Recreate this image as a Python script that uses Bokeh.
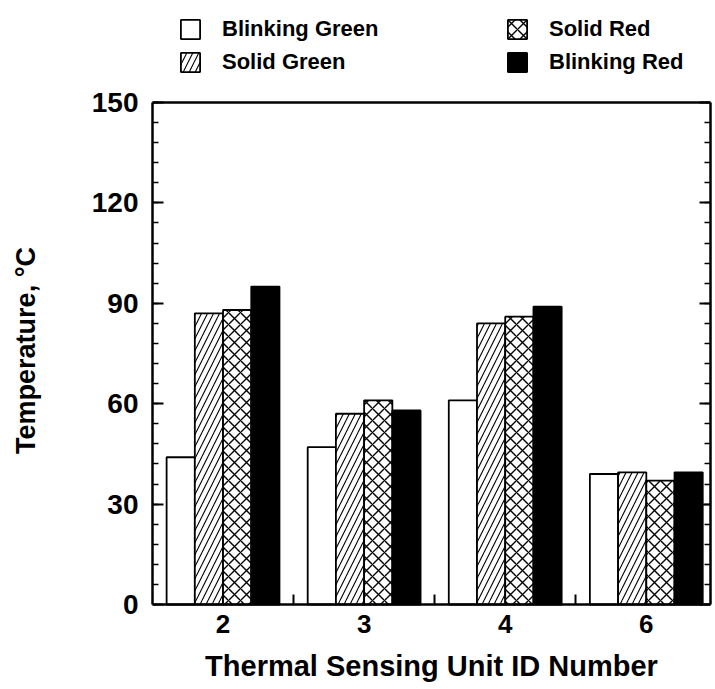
from bokeh.plotting import figure
from bokeh.models import Range1d, FixedTicker, LinearAxis, Legend, LegendItem, ColumnDataSource, Span
from bokeh.embed import file_html
from bokeh.resources import INLINE

# Thermal sensing unit IDs and the temperature (deg C) at which each indicator state appears
units = ["2", "3", "4", "6"]
blinking_green = [44, 47, 61, 39]
solid_green = [87, 57, 84, 39.5]
solid_red = [88, 61, 86, 37]
blinking_red = [95, 58, 89, 39.5]

series_names = ["Blinking Green", "Solid Green", "Solid Red", "Blinking Red"]
series_values = [blinking_green, solid_green, solid_red, blinking_red]

y_ticks = [0, 30, 60, 90, 120, 150]
y_minor_step = 6
y_max = 150
# the view extends past the 0-150 box: room for the legend above, axis texts below
y_view_bottom = -25.4
y_view_top = 177.2

FONT = "Liberation Sans"

p = figure(
    width=715, height=689,
    x_range=Range1d(0, 3.955), y_range=Range1d(y_view_bottom, y_view_top),
    output_backend="svg", toolbar_location=None,
    min_border_left=152, min_border_right=5,
    min_border_top=11, min_border_bottom=0,
    background_fill_color="white", border_fill_color="white",
)
p.xgrid.visible = False
p.ygrid.visible = False
p.outline_line_color = None

# top edge of the axis box
p.add_layout(Span(location=y_max, dimension="width", line_color="black", line_width=2.5))

# bar styles for each indicator state
styles = [
    dict(fill_color="white"),
    dict(fill_color="white", hatch_pattern="/", hatch_color="black", hatch_scale=12, hatch_weight=1.1),
    dict(fill_color="white", hatch_pattern="x", hatch_color="black", hatch_scale=12, hatch_weight=1.4),
    dict(fill_color="black"),
]

n_series = len(series_names)
bar_w = 0.2
centers = [i + 0.5 for i in range(len(units))]
renderers = []
for k, (vals, st) in enumerate(zip(series_values, styles)):
    offset = (k - (n_series - 1) / 2) * bar_w
    src = ColumnDataSource(dict(x=[c + offset for c in centers], top=vals))
    r = p.vbar(x="x", top="top", bottom=0, width=bar_w, source=src,
               line_color="black", line_width=1.8, **st)
    renderers.append(r)

# y axes (left labelled, right mirrored), ticks pointing inward, limited to 0-150
y_ticker = FixedTicker(ticks=y_ticks, minor_ticks=list(range(0, y_max + 1, y_minor_step)))
ya = p.yaxis[0]
ya.ticker = y_ticker
ya.axis_label = "Temperature, °C"
ya.axis_label_text_font = FONT
ya.axis_label_text_font_style = "bold"
ya.axis_label_text_font_size = "27px"
ya.axis_label_text_color = "black"
ya.axis_label_standoff = 48
ya.major_label_text_font = FONT
ya.major_label_text_font_style = "bold"
ya.major_label_text_font_size = "28px"
ya.major_label_text_color = "black"
ya.major_label_standoff = 14

right = LinearAxis(ticker=y_ticker, major_label_standoff=0,
                   major_label_overrides={t: "" for t in y_ticks})
p.add_layout(right, "right")

for ax in (ya, right):
    ax.bounds = (0, y_max)
    ax.axis_line_width = 2.5
    ax.axis_line_color = "black"
    ax.major_tick_in = 11
    ax.major_tick_out = 0
    ax.minor_tick_in = 6
    ax.minor_tick_out = 0
    ax.major_tick_line_width = 2
    ax.minor_tick_line_width = 1.5
    ax.major_tick_line_color = "black"
    ax.minor_tick_line_color = "black"

# x axis pinned at 0: labels at group centres, ticks at group boundaries
xa = p.xaxis[0]
xa.fixed_location = 0
xa.ticker = FixedTicker(ticks=centers, minor_ticks=[i for i in range(1, len(units))])
xa.major_label_overrides = {c: u for c, u in zip(centers, units)}
xa.major_tick_in = 0
xa.major_tick_out = 0
xa.minor_tick_in = 10
xa.minor_tick_out = 0
xa.minor_tick_line_width = 2
xa.minor_tick_line_color = "black"
xa.axis_line_width = 2.5
xa.axis_line_color = "black"
xa.major_label_text_font = FONT
xa.major_label_text_font_style = "bold"
xa.major_label_text_font_size = "26px"
xa.major_label_text_color = "black"
xa.major_label_standoff = 11
xa.axis_label = "Thermal Sensing Unit ID Number"
xa.axis_label_text_font = FONT
xa.axis_label_text_font_style = "bold"
xa.axis_label_text_font_size = "29px"
xa.axis_label_text_color = "black"
xa.axis_label_standoff = 13

# two-column legend above the axis box
def make_legend(idx, loc):
    return Legend(
        items=[LegendItem(label=series_names[i], renderers=[renderers[i]]) for i in idx],
        location=loc, orientation="vertical",
        label_text_font=FONT, label_text_font_style="bold", label_text_font_size="22px",
        label_text_color="black", label_standoff=20,
        glyph_width=24, glyph_height=24, spacing=7,
        padding=0, margin=0, border_line_color=None, background_fill_alpha=0,
    )

p.add_layout(make_legend([0, 1], (26, 614)))
p.add_layout(make_legend([2, 3], (353, 614)))

open("out.html", "w").write(file_html(p, INLINE))
